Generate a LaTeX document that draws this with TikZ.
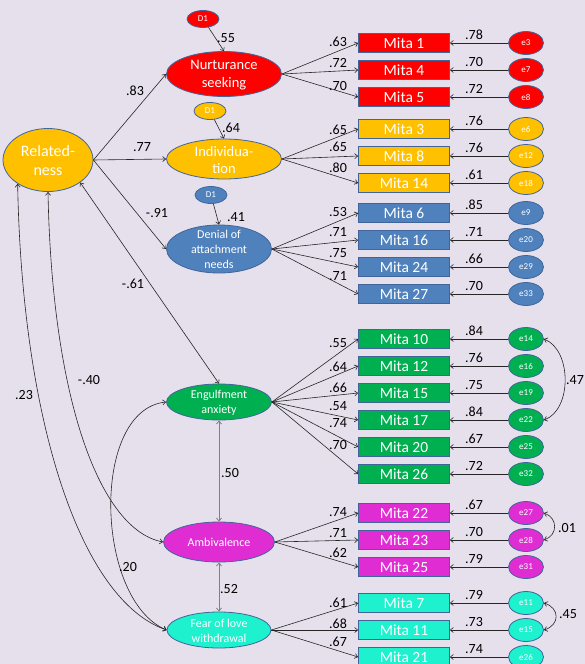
\documentclass[tikz,border=0pt]{standalone}
\usepackage{fontspec}
\setmainfont{Carlito}
\usetikzlibrary{shapes.geometric,arrows.meta}
\definecolor{bg}{HTML}{E5E0EC}
\definecolor{bord}{HTML}{41659A}
\definecolor{lc}{HTML}{262626}
\definecolor{cred}{HTML}{FF0000}
\definecolor{cyel}{HTML}{FFC000}
\definecolor{cblu}{HTML}{4F81BD}
\definecolor{cgrn}{HTML}{00B050}
\definecolor{cmag}{HTML}{E02DD3}
\definecolor{ccyn}{HTML}{1DF1CE}
\tikzset{
  lat/.style={ellipse, draw=bord, line width=0.8pt, inner sep=0pt},
  lattxt/.style={text=white, align=center, inner sep=0pt},
  mbox/.style={rectangle, draw=bord, line width=0.8pt, minimum width=91pt, minimum height=19pt, inner sep=0pt, text=white, font=\fontsize{15.5}{16}\selectfont},
  errn/.style={ellipse, draw=bord, line width=0.8pt, minimum width=35pt, minimum height=23pt, inner sep=0pt, text=white, font=\fontsize{9}{9}\selectfont},
  dn/.style={ellipse, draw=bord, line width=0.8pt, minimum width=32pt, minimum height=17pt, inner sep=0pt, text=white, font=\fontsize{9}{9}\selectfont},
  arr/.style={draw=lc, line width=0.6pt, -{Straight Barb[length=3pt,width=5pt]}},
  cov/.style={draw=lc, line width=0.6pt, {Straight Barb[length=3pt,width=5pt]}-{Straight Barb[length=3pt,width=5pt]}},
  lab/.style={inner sep=0pt, text=black, font=\fontsize{14}{14}\selectfont}
}
\begin{document}
\begin{tikzpicture}[x=1pt,y=-1pt]
\useasboundingbox (0,0) rectangle (585,664);
\fill[bg] (0,0) rectangle (585,664);

% latent variables
\node[lat, fill=cyel, minimum width=90pt, minimum height=63pt] (rel) at (48,160) {};
\node[lattxt, font=\fontsize{16}{19}\selectfont] (reltxt) at (48,161) {Related-\\ness};
\node[lat, fill=cred, minimum width=115pt, minimum height=45pt] (nurt) at (224,74) {};
\node[lattxt, font=\fontsize{14.5}{17.5}\selectfont] (nurttxt) at (224,75) {Nurturance\\seeking};
\node[lat, fill=cyel, minimum width=115pt, minimum height=40pt] (indiv) at (224,159) {};
\node[lattxt, font=\fontsize{14.5}{17}\selectfont] (indivtxt) at (224,160) {Individua-\\tion};
\node[lat, fill=cblu, minimum width=105pt, minimum height=48pt] (den) at (219,249) {};
\node[lattxt, font=\fontsize{12}{15}\selectfont] (dentxt) at (219,249) {Denial of\\attachment\\needs};
\node[lat, fill=cgrn, minimum width=105pt, minimum height=36pt] (eng) at (219,402) {};
\node[lattxt, font=\fontsize{12}{15}\selectfont] (engtxt) at (219,403) {Engulfment\\anxiety};
\node[lat, fill=cmag, minimum width=111pt, minimum height=40pt] (amb) at (219,542) {};
\node[lattxt, font=\fontsize{12}{15}\selectfont] (ambtxt) at (219,542) {Ambivalence};
\node[lat, fill=ccyn, minimum width=104pt, minimum height=36pt] (fear) at (219,630) {};
\node[lattxt, font=\fontsize{12}{15}\selectfont] (feartxt) at (219,631) {Fear of love\\withdrawal};

% disturbances
\node[dn, fill=cred] (d1a) at (203,19) {D1};
\node[dn, fill=cyel] (d1b) at (210,111) {D1};
\node[dn, fill=cblu] (d1c) at (211,195) {D1};
\draw[arr] (d1a) -- (nurt.north);
\draw[arr] (d1b) -- (indiv.north);
\draw[arr] (d1c) -- (den.north);
\node[lab] (l55) at (226,38) {.55};
\node[lab] (l64) at (231,128) {.64};
\node[lab] (l41) at (236,217) {.41};

% structural paths
\draw[arr] (rel.east) -- (nurt.west);
\draw[arr] (rel.east) -- (indiv.west);
\draw[arr] (rel.east) -- (den.west);
\node[lab] (l83) at (135,91) {.83};
\node[lab] (l77) at (142,147) {.77};
\node[lab] (l91) at (157,213) {-.91};

% covariances among latents
\draw[cov] (rel.-35) -- (eng.north);
\node[lab] (l61) at (133,284) {-.61};
\draw[cov] (rel.south) .. controls (52,400) and (100,530) .. (amb.west);
\node[lab] (l40) at (89,380) {-.40};
\draw[cov] (rel.-142) .. controls (22,420) and (80,600) .. (fear.west);
\node[lab] (l23) at (24,395) {.23};
\draw[cov] (eng.west) .. controls (90,410) and (95,600) .. (fear.west);
\node[lab] (l20) at (128,567) {.20};
\draw[cov, draw=gray, line width=0.8pt] (eng.south) -- (amb.north);
\node[lab] (l50) at (230,473) {.50};
\draw[cov, draw=gray, line width=0.8pt] (amb.south) -- (fear.north);
\node[lab] (l52) at (229,589) {.52};

% indicators and errors
\foreach \lat/\col/\num/\y/\ld/\ly/\e/\ev in {
 nurt/cred/1/43/.63/42/e3/.78,
 nurt/cred/4/70/.72/63/e7/.70,
 nurt/cred/5/97/.70/86/e8/.72,
 indiv/cyel/3/129/.65/130/e6/.76,
 indiv/cyel/8/156/.65/147/e12/.76,
 indiv/cyel/14/183/.80/168/e18/.61,
 den/cblu/6/213/.53/212/e9/.85,
 den/cblu/16/240/.71/232/e20/.71,
 den/cblu/24/267/.75/253/e29/.66,
 den/cblu/27/294/.71/276/e33/.70,
 eng/cgrn/10/339/.55/343/e14/.84,
 eng/cgrn/12/366/.64/367/e16/.76,
 eng/cgrn/15/393/.66/388/e19/.75,
 eng/cgrn/17/420/.54/406/e22/.84,
 eng/cgrn/20/447/.74/423/e25/.67,
 eng/cgrn/26/474/.70/445/e32/.72,
 amb/cmag/22/513/.74/512/e27/.67,
 amb/cmag/23/540/.71/533/e28/.70,
 amb/cmag/25/567/.62/553/e31/.79,
 fear/ccyn/7/603/.61/603/e11/.79,
 fear/ccyn/11/630/.68/624/e15/.73,
 fear/ccyn/21/657/.67/642/e26/.74}
{
  \node[mbox, fill=\col] (m\num) at (404,\y) {Mita \num};
  \node[errn, fill=\col] (err\e) at (526,\y) {\e};
  \draw[arr] (\lat.east) -- (m\num.west);
  \draw[arr] (err\e.west) -- (m\num.east);
  \node[lab] (ld\num) at (338,\ly) {\ld};
  \node[lab] (le\num) at (474,\y-8) {\ev};
}

% error covariances
\draw[cov] (erre14.east) .. controls (572,350) and (572,410) .. (erre22.east);
\node[lab] (l47) at (575,380) {.47};
\draw[cov] (erre27.east) .. controls (558,518) and (558,535) .. (erre28.east);
\node[lab] (l01) at (567,528) {.01};
\draw[cov] (erre11.east) .. controls (560,608) and (560,625) .. (erre15.east);
\node[lab] (l45) at (568,614) {.45};
\end{tikzpicture}
\end{document}
